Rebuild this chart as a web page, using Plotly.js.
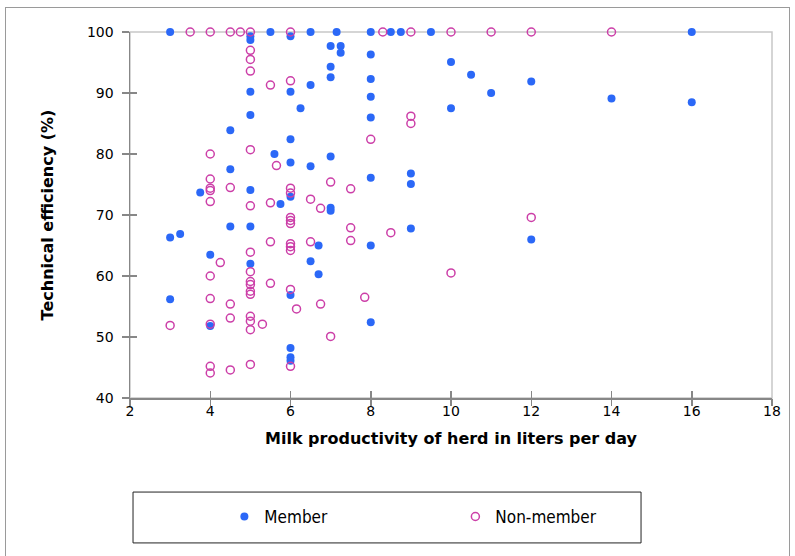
<!DOCTYPE html>
<html>
<head>
<meta charset="utf-8">
<script src="https://cdn.plot.ly/plotly-3.0.1.min.js"></script>
<style>
  html, body { margin: 0; padding: 0; background: #fff; }
  #wrap { position: relative; width: 795px; height: 556px; overflow: hidden; }
  #chart { width: 795px; height: 556px; }
  #frame { position: absolute; left: 5px; top: 7px; width: 783px; height: 600px;
           border: 1px solid #9a9a9a; pointer-events: none; }
</style>
</head>
<body>
<div id="wrap">
  <div id="chart"></div>
  <div id="frame"></div>
</div>
<script>
// Member (filled blue dots)
const memberX = [3, 5.5, 6, 6.5, 7.15, 8, 8.5, 8.75, 9.5, 16,
  5, 5, 7, 7.25, 7.25, 8, 10, 7, 10.5, 7, 8, 12, 6.5, 5, 6, 11, 8, 14, 16,
  6.25, 10, 5, 8, 4.5, 6, 5.6, 7, 6, 6.5, 4.5, 9, 8, 9, 5, 3.75, 6, 5.75,
  7, 7, 4.5, 5, 9, 3.25, 3, 12, 6.7, 8, 4, 6.5, 5, 6.7, 6, 3, 8, 4, 6, 6, 6];
const memberY = [100, 100, 99.3, 100, 100, 100, 100, 100, 100, 100,
  99.3, 98.7, 97.7, 97.7, 96.6, 96.3, 95.1, 94.3, 93.0, 92.6, 92.3, 91.9, 91.3, 90.2, 90.2, 90.0, 89.4, 89.1, 88.5,
  87.5, 87.5, 86.4, 86.0, 83.9, 82.4, 80.0, 79.6, 78.6, 78.0, 77.5, 76.8, 76.1, 75.1, 74.1, 73.7, 73.0, 71.8,
  71.2, 70.7, 68.1, 68.1, 67.8, 66.9, 66.3, 66.0, 65.0, 65.0, 63.5, 62.4, 62.0, 60.3, 56.9, 56.2, 52.4, 51.8, 48.2, 46.7, 46.1];

// Non-member (open pink circles)
const nonMemberX = [3.5, 4, 4.5, 4.75, 5, 6, 8.3, 9, 10, 11, 12, 14,
  5, 5, 5, 6, 5.5, 9, 9, 8, 5, 4, 5.65, 4, 7, 4.5, 4, 4, 6, 7.5, 6, 6.5, 4, 5.5, 5, 6.75,
  6, 6, 6, 12, 7.5, 8.5, 7.5, 5.5, 6.5, 6, 6, 6, 5, 4.25, 5, 10, 4, 5, 5, 5.5, 6, 5, 5,
  7.85, 4, 4.5, 6.75, 6.15, 5, 4.5, 5, 4, 5.3, 3, 5, 7, 5, 4, 6, 4.5, 4];
const nonMemberY = [100, 100, 100, 100, 100, 100, 100, 100, 100, 100, 100, 100,
  97.0, 95.5, 93.6, 92.0, 91.3, 86.2, 85.0, 82.4, 80.7, 80.0, 78.1, 75.9, 75.4, 74.5, 74.4, 74.0, 74.4, 74.3, 73.6, 72.6, 72.2, 72.0, 71.5, 71.1,
  69.6, 69.1, 68.6, 69.6, 67.9, 67.1, 65.8, 65.6, 65.6, 65.3, 64.8, 64.2, 63.9, 62.2, 60.7, 60.5, 60.0, 59.1, 58.6, 58.8, 57.8, 57.5, 57.0,
  56.5, 56.3, 55.4, 55.4, 54.6, 53.4, 53.1, 52.6, 52.1, 52.1, 51.9, 51.2, 50.1, 45.5, 45.2, 45.2, 44.6, 44.1];

const xTicks = [2, 4, 6, 8, 10, 12, 14, 16, 18];
const yTicks = [40, 50, 60, 70, 80, 90, 100];
const xRange = [2, 18];
const yRange = [40, 100];

const axisColor = '#878787';
const tickFont = { family: 'DejaVu Sans, Verdana, sans-serif', size: 14, color: '#000' };
const titleFont = { family: 'DejaVu Sans, Verdana, sans-serif', size: 16, color: '#000', weight: 'bold' };

const data = [
  {
    type: 'scatter', mode: 'markers', name: 'Member',
    x: memberX, y: memberY,
    marker: { symbol: 'circle', size: 8, color: '#2b68f7', line: { width: 0 } },
    cliponaxis: false
  },
  {
    type: 'scatter', mode: 'markers', name: 'Non-member',
    x: nonMemberX, y: nonMemberY,
    marker: { symbol: 'circle-open', size: 8, color: '#cc3fa8', line: { width: 1.5, color: '#cc3fa8' } },
    cliponaxis: false
  },
  { type: 'scatter', mode: 'markers', x: [], y: [], xaxis: 'x2', yaxis: 'y2', showlegend: false, hoverinfo: 'skip' }
];

const layout = {
  width: 795, height: 556,
  margin: { l: 130, r: 23, t: 32, b: 158 },
  paper_bgcolor: '#fff', plot_bgcolor: '#fff',
  showlegend: true,
  xaxis: {
    range: xRange, tickvals: xTicks, ticktext: xTicks.map(String),
    showgrid: false, zeroline: false,
    showline: true, linecolor: axisColor, linewidth: 1.5,
    ticks: 'inside', ticklen: 7, tickwidth: 1.5, tickcolor: axisColor,
    tickfont: tickFont,
    title: { text: 'Milk productivity of herd in liters per day', font: titleFont, standoff: 14 }
  },
  yaxis: {
    range: yRange, tickvals: yTicks, ticktext: yTicks.map(String),
    showgrid: false, zeroline: false,
    showline: true, linecolor: axisColor, linewidth: 1.5,
    ticks: 'outside', ticklen: 7, tickwidth: 1.5, tickcolor: axisColor,
    ticklabelstandoff: 5,
    tickfont: tickFont,
    title: { text: 'Technical efficiency (%)', font: titleFont, standoff: 29 }
  },
  xaxis2: {
    overlaying: 'x', anchor: 'y', side: 'bottom', range: xRange, tickvals: xTicks,
    showticklabels: false, showgrid: false, zeroline: false, showline: false,
    ticks: 'outside', ticklen: 7, tickwidth: 1.5, tickcolor: axisColor
  },
  yaxis2: {
    overlaying: 'y', anchor: 'x', side: 'left', range: yRange, tickvals: yTicks,
    showticklabels: false, showgrid: false, zeroline: false, showline: false,
    ticks: 'inside', ticklen: 7, tickwidth: 1.5, tickcolor: axisColor
  },
  legend: {
    orientation: 'h', x: 0.147, xanchor: 'left', y: -0.325, yanchor: 'middle',
    bgcolor: 'rgba(0,0,0,0)', borderwidth: 0,
    entrywidth: 186, entrywidthmode: 'pixels',
    font: { family: 'DejaVu Sans Condensed, DejaVu Sans, sans-serif', size: 17, color: '#000' }
  },
  shapes: [
    { type: 'rect', xref: 'paper', yref: 'paper', x0: 0, x1: 1, y0: 0, y1: 1,
      line: { color: '#c8c8c8', width: 1.5 }, layer: 'below' },
    { type: 'rect', xref: 'paper', yref: 'paper', x0: 0.0047, x1: 0.796, y0: -0.396, y1: -0.257,
      line: { color: '#222', width: 1 }, layer: 'below' }
  ]
};

Plotly.newPlot('chart', data, layout, { displayModeBar: false, staticPlot: true });
</script>
</body>
</html>
